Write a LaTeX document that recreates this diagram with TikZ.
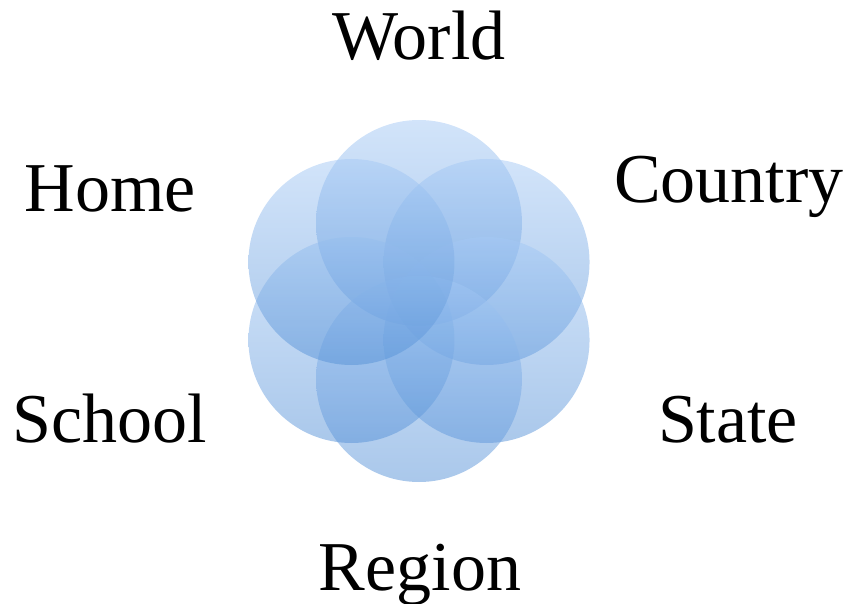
\documentclass[tikz,border=0pt]{standalone}
\usepackage{fontspec}
\usetikzlibrary{calc}
\setmainfont{Liberation Serif}
\definecolor{ctop}{RGB}{165,201,245}
\definecolor{cbot}{RGB}{85,145,215}
\tikzset{
  petal/.style={top color=ctop, bottom color=cbot, fill opacity=0.5, draw=none},
  lbl/.style={font=\fontsize{70}{80}\selectfont, anchor=base, inner sep=0pt}
}
\begin{document}
\begin{tikzpicture}[x=1pt,y=-1pt]
\useasboundingbox (0,0) rectangle (852,604);
\coordinate (c) at (419,301);
\foreach \n/\a in {w/90,co/30,st/-30,re/-90,sc/-150,ho/150}{
  \coordinate (p\n) at ($(c)+(\a:78pt)$);
}
\foreach \n in {w,co,st,re,sc,ho}{
  \shade[petal] (p\n) circle (103pt);
}
\node[lbl] (world) at (419,60) {World};
\node[lbl] (home) at (110,212) {Home};
\node[lbl] (country) at (729,203) {Country};
\node[lbl] (school) at (110,442) {School};
\node[lbl] (state) at (728,442) {State};
\node[lbl] (region) at (420,590) {Region};
\end{tikzpicture}
\end{document}
